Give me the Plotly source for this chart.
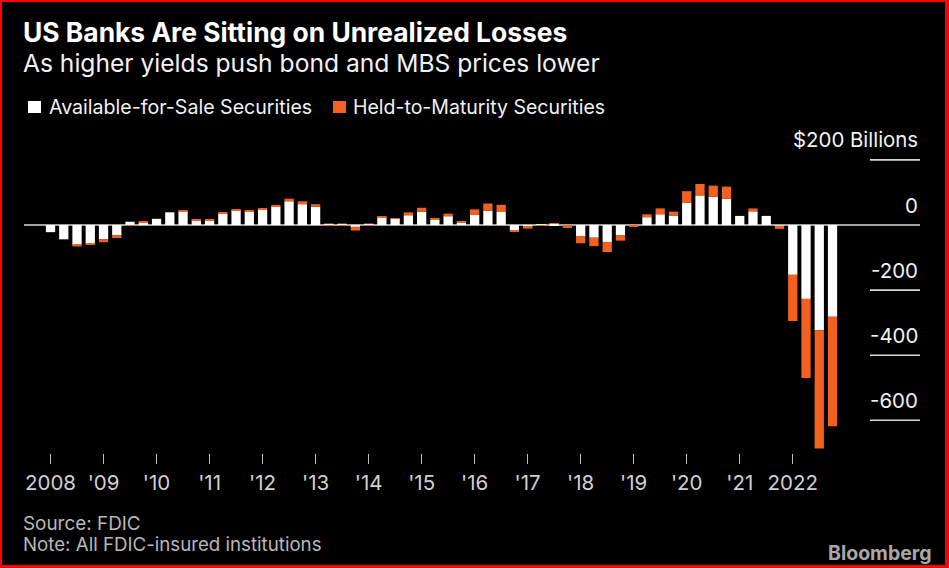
import plotly.graph_objects as go

# ---------------- data ----------------
quarters = list(range(60))  # 2008 Q1 .. 2022 Q4
afs = [-22, -44, -61, -57, -44, -31, 10, 7,
       19, 39, 43, 15, 15, 35, 46, 42,
       47, 56, 73, 64, 56, 4, 4, -5,
       4, 24, 20, 30, 41, 16, 27, 7,
       31, 44, 40, -16, -6, 1, 5, -3,
       -34, -39, -52, -31, -2, 24, 33, 29,
       69, 91, 87, 81, 28, 42, 28, -2,
       -153, -227, -323, -282]
htm = [0, 0, -5, -3, -9, -9, -3, 3,
       0, 0, 3, 2, 2, 3, 1, 3,
       3, 3, 8, 9, 8, -3, -3, -12,
       -2, 3, 1, 9, 12, 4, 8, 5,
       17, 22, 22, -4, -5, -2, 1, -6,
       -22, -26, -31, -17, -3, 9, 18, 12,
       35, 35, 34, 37, 0, 9, 0, -10,
       -142, -243, -364, -336]
tick_vals = [0, 4, 8, 12, 16, 20, 24, 28, 32, 36, 40, 44, 48, 52, 56]
tick_text = ["2008", "'09", "'10", "'11", "'12", "'13", "'14", "'15", "'16",
             "'17", "'18", "'19", "'20", "'21", "2022"]
y_vals = [200, 0, -200, -400, -600]
y_text = ["$200 Billions", "0", "-200", "-400", "-600"]

# ---------------- style ----------------
W, H = 949, 568
ML, MR, MT, MB = 24, 29, 130, 115
PW, PH = W - ML - MR, H - MT - MB
WHITE = "#ffffff"
ORANGE = "#f2611e"
FONT = "Inter, Liberation Sans, Arial, sans-serif"


def px(x):
    return (x - ML) / PW


def py(y):
    return (H - MB - y) / PH


fig = go.Figure()
fig.add_trace(go.Bar(x=quarters, y=afs, name="Available-for-Sale Securities",
                     marker=dict(color=WHITE, line=dict(width=0))))
fig.add_trace(go.Bar(x=quarters, y=htm, name="Held-to-Maturity Securities",
                     marker=dict(color=ORANGE, line=dict(width=0))))

shapes = []
# zero line (full width)
shapes.append(dict(type="line", xref="paper", yref="y", x0=0, x1=1, y0=0, y1=0,
                   line=dict(color="#d8d8d8", width=1.6), layer="below"))
# short gridlines at right
for v in y_vals:
    if v != 0:
        shapes.append(dict(type="line", xref="paper", yref="y", x0=px(870), x1=1,
                           y0=v, y1=v, line=dict(color="#d8d8d8", width=1.6),
                           layer="below"))
# legend squares
shapes.append(dict(type="rect", xref="paper", yref="paper", x0=px(28), x1=px(41),
                   y0=py(113), y1=py(101), fillcolor=WHITE, line=dict(width=0)))
shapes.append(dict(type="rect", xref="paper", yref="paper", x0=px(333), x1=px(346),
                   y0=py(113), y1=py(101), fillcolor=ORANGE, line=dict(width=0)))
# red frame
for (x0, y0, x1, y1) in [(0, 0, W, 2), (0, H - 3, W, H), (0, 0, 2, H), (W - 4, 0, W, H)]:
    shapes.append(dict(type="rect", xref="paper", yref="paper", x0=px(x0), x1=px(x1),
                       y0=py(y1), y1=py(y0), fillcolor="#ff0000", line=dict(width=0)))

annotations = []


def text(t, x, y, size, color, bold=False, anchor="left"):
    annotations.append(dict(text=("<b>%s</b>" % t) if bold else t, xref="paper", yref="paper",
                            x=px(x), y=py(y), xanchor=anchor, yanchor="middle",
                            showarrow=False, font=dict(family=FONT, size=size, color=color)))


text("US Banks Are Sitting on Unrealized Losses", 21, 32, 26.4, WHITE, bold=True)
text("As higher yields push bond and MBS prices lower", 21, 63, 24.6, "#f2f2f2")
text("Available-for-Sale Securities", 47, 107, 19.6, "#f2f2f2")
text("Held-to-Maturity Securities", 351, 107, 19.5, "#f2f2f2")
text("Source: FDIC", 21, 523, 18.9, "#b8b8b8")
text("Note: All FDIC-insured institutions", 21, 544, 18.7, "#b8b8b8")
text("Bloomberg", 934, 553, 19.5, "#a8a8a8", bold=True, anchor="right")

# y-axis value labels (placed above their gridlines)
for v, t in zip(y_vals, y_text):
    annotations.append(dict(text=t, xref="paper", yref="y", x=1, y=v, xanchor="right",
                            yanchor="middle", yshift=20, showarrow=False,
                            font=dict(family=FONT, size=20.4, color="#f2f2f2")))

fig.update_layout(
    width=W, height=H,
    margin=dict(l=ML, r=MR, t=MT, b=MB),
    paper_bgcolor="#000000", plot_bgcolor="#000000",
    barmode="relative", bargap=0.3,
    showlegend=False,
    shapes=shapes, annotations=annotations,
    font=dict(family=FONT, color=WHITE),
)
fig.update_xaxes(range=[-2.0, 65.6], tickvals=tick_vals, ticktext=tick_text,
                 showgrid=False, zeroline=False, showline=False,
                 ticks="outside", ticklen=10, tickwidth=1, tickcolor="#bdbdbd",
                 tickfont=dict(family=FONT, size=20.5, color="#d0d0d0"),
                 ticklabelstandoff=1)
fig.update_yaxes(range=[-700.5, 291.9], showgrid=False, zeroline=False,
                 showline=False, showticklabels=False, ticks="")

fig.write_html("out.html")
